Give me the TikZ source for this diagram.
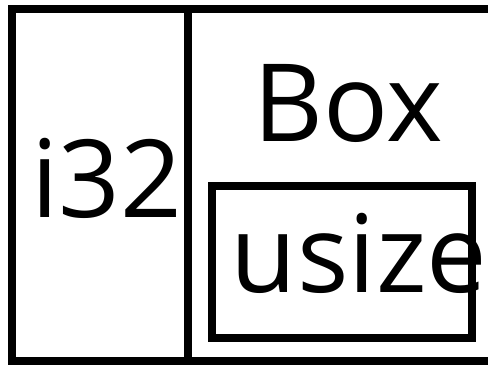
\documentclass[tikz,border=0pt]{standalone}
\usepackage{fontspec}
\setmainfont{Open Sans}
\usetikzlibrary{positioning}
\tikzset{
  frame/.style={draw=black, line width=8pt},
  lbl/.style={font=\fontsize{108}{108}\selectfont, inner sep=0pt, anchor=base},
}
\begin{document}
\begin{tikzpicture}[x=1pt, y=-1pt]
  \useasboundingbox (0,0) rectangle (488,365);
  \clip (0,0) rectangle (488,365);
  % outer cell, split in two
  \draw[frame] (12,9) rectangle (520,361);
  \draw[frame] (188,9) -- (188,361);
  % inner box
  \draw[frame] (211.5,186) rectangle (472,337.5);
  % labels
  \node[lbl] (i32) at (107,217) {i32};
  \node[lbl] (box) at (348,141) {Box};
  \node[lbl] (usize) at (359,292) {usize};
\end{tikzpicture}
\end{document}
